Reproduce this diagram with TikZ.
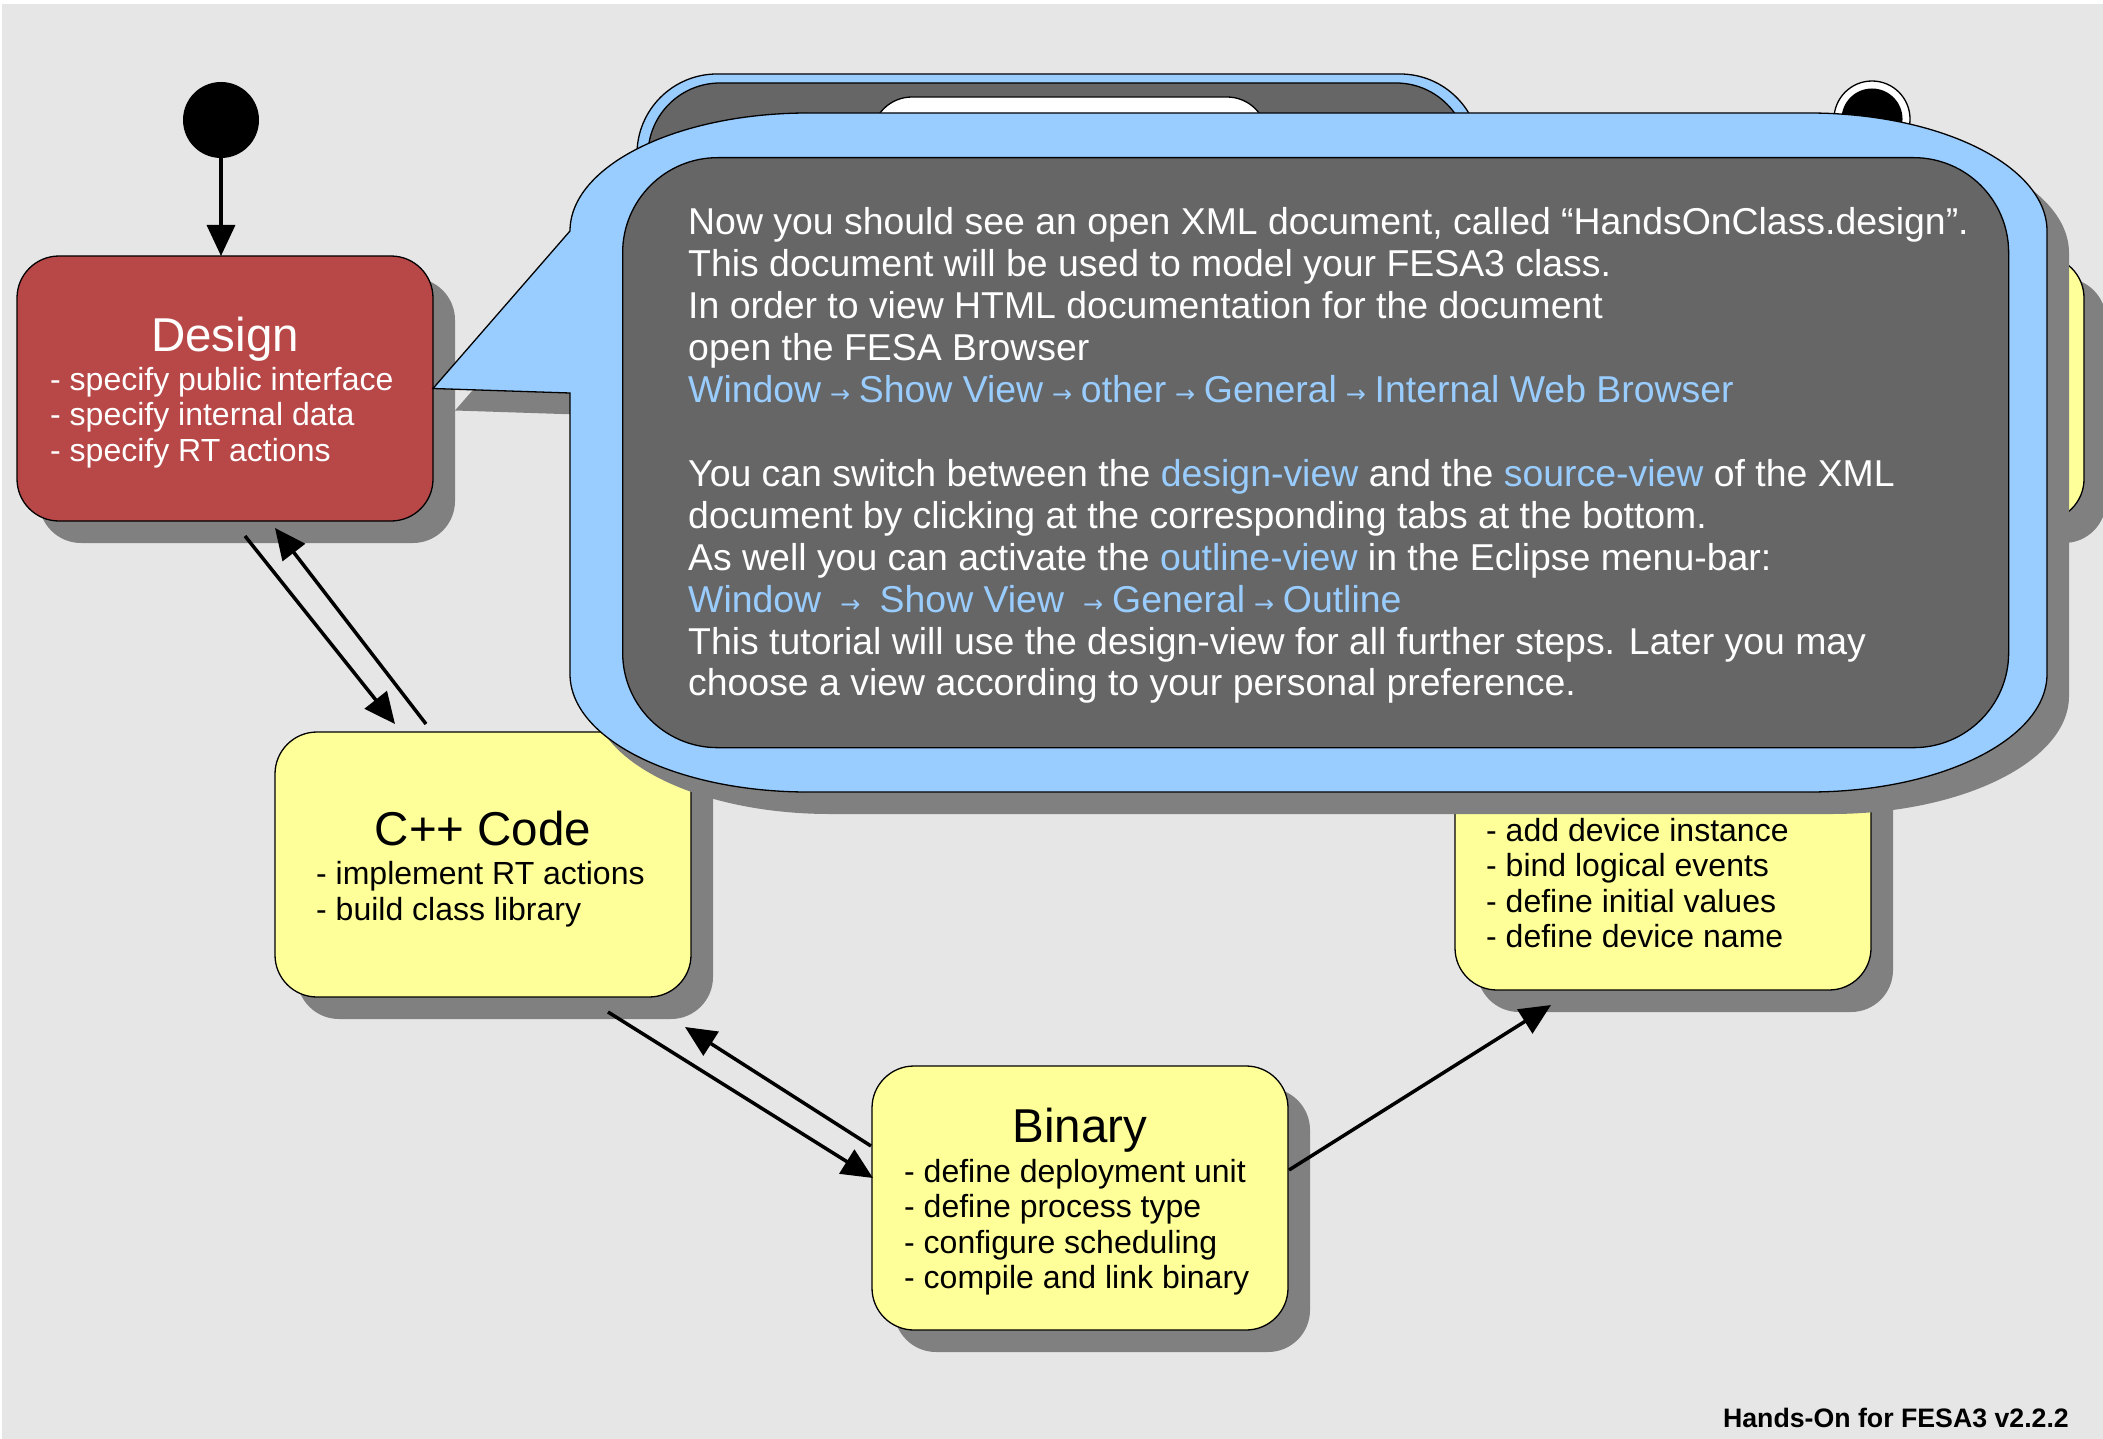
\documentclass[tikz,border=0pt]{standalone}
\usepackage{fontspec}
\setmainfont{Liberation Sans}
\newfontfamily\arrowfont{DejaVu Sans}
\usetikzlibrary{arrows.meta,calc,shadows}

\definecolor{canvasgray}{HTML}{E6E6E6}
\definecolor{shade}{HTML}{808080}
\definecolor{designred}{RGB}{184,71,71}
\definecolor{stateyellow}{HTML}{FFFF99}
\definecolor{calloutblue}{HTML}{99CCFF}
\definecolor{calloutgray}{HTML}{666666}
\definecolor{linkblue}{HTML}{99CCFF}

% a stack of lines whose baseline is the baseline of the first line
\newcommand\linestack[2]{\vtop{\baselineskip=#1\relax\lineskiplimit=-1000pt\relax\lineskip=0pt\relax #2}}
\newcommand\navarrow{\kern8.8pt{\arrowfont\fontsize{24}{24}\selectfont →}\kern8.8pt}
\newcommand\lnk[1]{\textcolor{linkblue}{#1}}

\begin{document}
\begin{tikzpicture}[x=1pt,y=-1pt,
  statebox/.style={draw=black, line width=1.3pt, rounded corners=42pt,
    inner sep=0pt, outer sep=0pt, anchor=north west,
    minimum width=416pt, minimum height=265pt,
    drop shadow={shadow xshift=22pt, shadow yshift=-22pt, opacity=1, fill=shade}},
  title/.style={anchor=base, inner sep=0pt, font=\fontsize{47.5}{52}\selectfont},
  bullets/.style={anchor=base west, inner sep=0pt, font=\fontsize{32}{35.5}\selectfont},
  connector/.style={line width=3.5pt, -{Triangle[length=31pt,width=28pt]}},
  outline/.style={draw=black, line width=1.3pt},
]
\useasboundingbox (0,0) rectangle (2103,1439);
\clip (0,0) rectangle (2103,1439);

% canvas
\fill[white] (0,0) rectangle (2103,1439);
\fill[canvasgray] (2,4) rectangle (2103,1439);

% older note, mostly covered by the current one
\draw[outline, fill=calloutblue, rounded corners=80pt] (637,74) rectangle (1480,420);
\draw[outline, fill=calloutgray, rounded corners=72pt] (648,83) rectangle (1468,420);
\draw[outline, fill=white, rounded corners=40pt] (872,97) rectangle (1267,300);

% final state
\node[circle, outline, fill=white, minimum size=76pt, inner sep=0pt] (final) at (1872,119) {};
\node[circle, fill=black, minimum size=61pt, inner sep=0pt] (finaldot) at (final) {};

% state boxes
\node[statebox, fill=stateyellow] (hiddenstate) at (1668,256) {};
\node[statebox, fill=stateyellow] (instance) at (1455,725) {};
\node[statebox, fill=designred] (design) at (17,256) {};
\node[statebox, fill=stateyellow] (cpp) at (275,732) {};
\node[statebox, fill=stateyellow, minimum height=264pt] (binary) at (872,1066) {};

% box texts
\node[title, text=white] (designtitle) at (225,351) {Design};
\node[bullets, text=white] (designlist) at (50,390) {\linestack{35.5pt}{%
  \hbox{- specify public interface}
  \hbox{- specify internal data}
  \hbox{- specify RT actions}}};

\node[title] (cpptitle) at (483,845) {C++ Code};
\node[bullets] (cpplist) at (316,884) {\linestack{36.5pt}{%
  \hbox{- implement RT actions}
  \hbox{- build class library}}};

\node[title] (binarytitle) at (1080,1142) {Binary};
\node[bullets] (binarylist) at (904,1182) {\linestack{35.5pt}{%
  \hbox{- define deployment unit}
  \hbox{- define process type}
  \hbox{- configure scheduling}
  \hbox{- compile and link binary}}};

\node[bullets] (instancelist) at (1486,841) {\linestack{35.5pt}{%
  \hbox{- add device instance}
  \hbox{- bind logical events}
  \hbox{- define initial values}
  \hbox{- define device name}}};

% start state and transitions
\node[circle, fill=black, minimum size=76pt, inner sep=0pt] (start) at (221,120) {};
\draw[connector] (start.south) -- (start.south |- design.north);
\draw[connector] ($(design.south)+(20,15)$) -- ($(cpp.north)+(-88,-8)$);
\draw[connector] ($(cpp.north)+(-57,-8)$) -- ($(design.south)+(50,7)$);
\draw[connector] ($(cpp.south)+(125,15)$) -- ($(binary.west)+(1,-20)$);
\draw[connector] ($(binary.west)+(-1,-52)$) -- ($(cpp.south)+(202,30)$);
\draw[connector] ($(binary.east)+(1,-28)$) -- ($(instance.south)+(-112,15)$);

% current note with its pointer to the Design box
\path[outline, fill=calloutblue,
  drop shadow={shadow xshift=22pt, shadow yshift=-22pt, opacity=1, fill=shade}]
  (808,113) -- (1809,113)
  .. controls (1940.4,113) and (2047,165.8) .. (2047,231)
  -- (2047,674)
  .. controls (2047,739.2) and (1940.4,792) .. (1809,792)
  -- (808,792)
  .. controls (676.6,792) and (570,739.2) .. (570,674)
  -- (570,393) -- (design.east) -- (570,231)
  .. controls (570,165.8) and (676.6,113) .. (808,113) -- cycle;

\node[outline, fill=calloutgray, rounded corners=95pt, inner sep=0pt,
  anchor=north west, minimum width=1386pt, minimum height=590pt] (note) at (622,157) {};

\node[anchor=base west, inner sep=0pt, text=white,
  font=\fontsize{37.4}{41.9}\selectfont] (notetext) at (688,235) {\linestack{41.9pt}{%
  \hbox{Now you should see an open XML document, called “HandsOnClass.design”.}
  \hbox{This document will be used to model your FESA3 class.}
  \hbox{In order to view HTML documentation for the document}
  \hbox{open the FESA Browser}
  \hbox{\lnk{Window\navarrow Show View\navarrow other\navarrow General\navarrow Internal Web Browser}}
  \hbox{}
  \hbox{You can switch between the \lnk{design-view} and the \lnk{source-view} of the XML}
  \hbox{document by clicking at the corresponding tabs at the bottom.}
  \hbox{As well you can activate the \lnk{outline-view} in the Eclipse menu-bar:}
  \hbox{\lnk{Window \navarrow{} Show View \navarrow General\navarrow Outline}}
  \hbox{This tutorial will use the design-view for all further steps. Later you may}
  \hbox{choose a view according to your personal preference.}}};

% footer
\node[anchor=base east, inner sep=0pt, font=\bfseries\fontsize{26.7}{30}\selectfont]
  (footer) at (2069,1427) {Hands-On for FESA3 v2.2.2};
\end{tikzpicture}
\end{document}
